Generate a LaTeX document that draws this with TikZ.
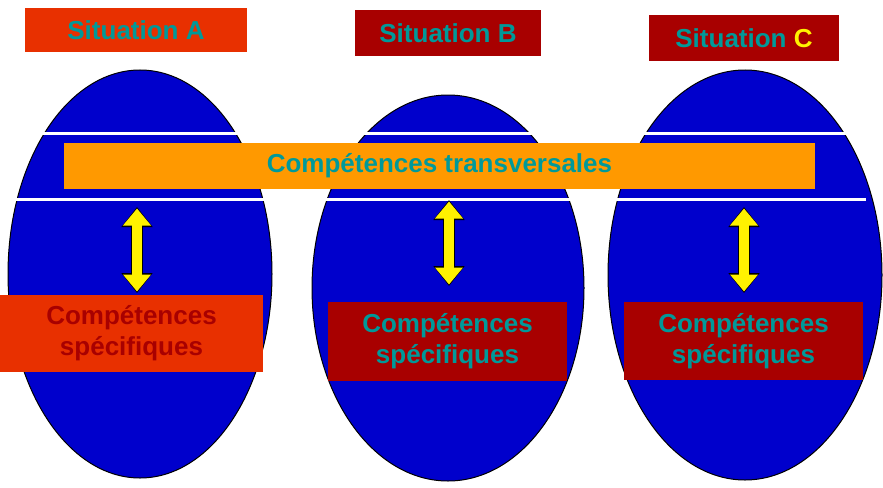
\documentclass[tikz,border=0pt]{standalone}
\usepackage{fontspec}
\setmainfont{Liberation Sans}
\usetikzlibrary{arrows.meta,shapes.geometric}
\definecolor{blu}{HTML}{0000CC}
\definecolor{redA}{HTML}{E83000}
\definecolor{dred}{HTML}{A80000}
\definecolor{teal2}{HTML}{009999}
\definecolor{orng}{HTML}{FF9900}
\begin{document}
\begin{tikzpicture}[x=1pt,y=-1pt,
  ell/.style={draw=black,line width=1pt,fill=blu,ellipse,inner sep=0pt},
  box/.style={inner sep=0pt,font=\bfseries\fontsize{26}{31}\selectfont,align=center}]
\useasboundingbox (0,0) rectangle (883,487);
\fill[white] (0,0) rectangle (883,487);
\node[ell,minimum width=264pt,minimum height=408pt] (eA) at (140,274) {};
\node[ell,minimum width=272pt,minimum height=386pt] (eB) at (448,288) {};
\node[ell,minimum width=274pt,minimum height=410pt] (eC) at (745,275) {};
\draw[white,line width=3pt] (12,133) -- (866,133) (12,199) -- (866,199);
\node[box,fill=orng,minimum width=751pt,minimum height=46pt,text=teal2] (tr) at (439.5,166) {Compétences transversales};
\node[box,fill=redA,minimum width=222pt,minimum height=44pt,text=teal2] (tA) at (136,30) {Situation A};
\node[box,fill=dred,minimum width=186pt,minimum height=46pt,text=teal2] (tB) at (448,33) {Situation B};
\node[box,fill=dred,minimum width=190pt,minimum height=46pt,text=teal2] (tC) at (744,38) {Situation {\color{yellow}C}};
\node[box,fill=redA,minimum width=263pt,minimum height=77pt,text=dred] (sA) at (131.5,333.5) {Compétences\\spécifiques};
\node[box,fill=dred,minimum width=239pt,minimum height=79pt,text=teal2] (sB) at (447.5,341.5) {Compétences\\spécifiques};
\node[box,fill=dred,minimum width=239pt,minimum height=78pt,text=teal2] (sC) at (743.5,341) {Compétences\\spécifiques};
\coordinate (a1) at (137,207); \coordinate (a2) at (137,293);
\coordinate (b1) at (449,200); \coordinate (b2) at (449,286);
\coordinate (c1) at (744,207); \coordinate (c2) at (744,293);
\foreach \p/\q in {a1/a2,b1/b2,c1/c2}{
  \draw[{Triangle[width=30pt,length=20pt]}-{Triangle[width=30pt,length=20pt]},line width=12pt,black] (\p) -- (\q);
  \draw[{Triangle[width=27pt,length=17pt]}-{Triangle[width=27pt,length=17pt]},line width=10pt,yellow,shorten <=1.5pt,shorten >=1.5pt] (\p) -- (\q);
}
\end{tikzpicture}
\end{document}
